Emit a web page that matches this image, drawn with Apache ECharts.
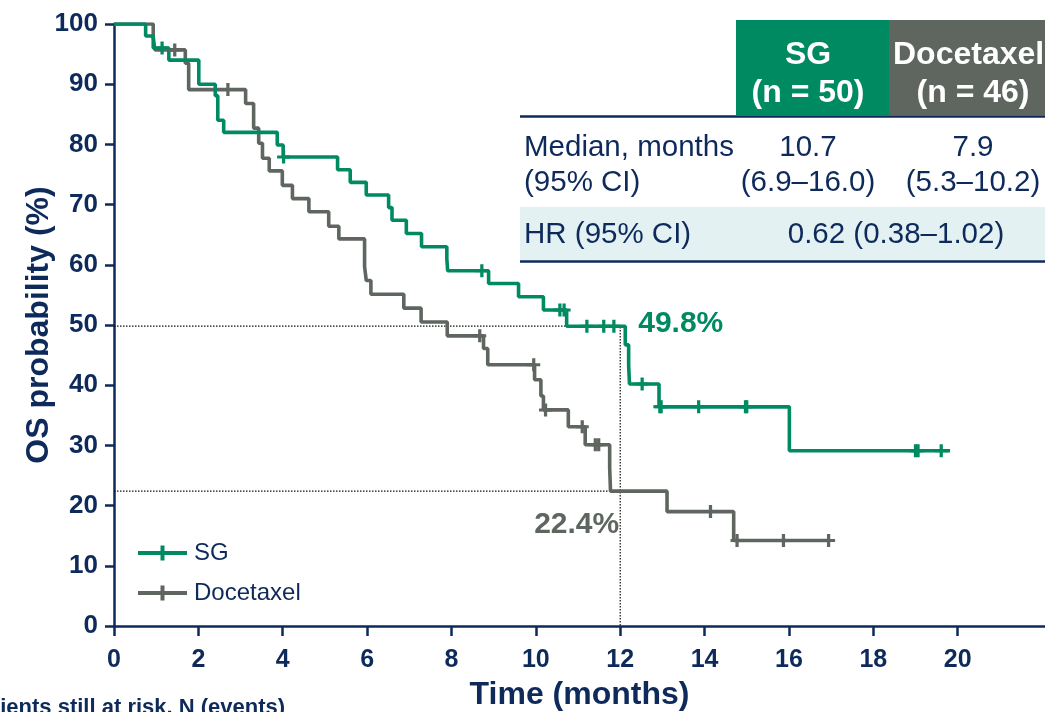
<!DOCTYPE html>
<html><head><meta charset="utf-8">
<script src="https://cdn.jsdelivr.net/npm/echarts@6/dist/echarts.min.js"></script>
<style>html,body{margin:0;padding:0;background:#fff;overflow:hidden}#c{width:1045px;height:712px}</style>
</head><body><div id="c"></div>
<script>
// ---- data ----
const xTicks = [0, 2, 4, 6, 8, 10, 12, 14, 16, 18, 20];
const yTicks = [0, 10, 20, 30, 40, 50, 60, 70, 80, 90, 100];
const seriesNames = ['SG', 'Docetaxel'];

const sgEventTimes = [0.75, 0.93, 1.30, 2.01, 2.40, 2.46, 2.60, 3.87, 4.01, 5.30, 5.60, 5.98, 6.51, 6.59, 6.93, 7.29, 7.89, 7.91, 8.88, 9.59, 10.18, 10.73, 12.12, 12.20, 12.22, 12.92, 16.01];
const sgEventSurv  = [98.0, 96.0, 94.0, 90.0, 88.1, 84.0, 82.0, 79.9, 77.9, 75.8, 73.7, 71.6, 69.5, 67.4, 65.2, 63.0, 61.0, 59.0, 56.9, 54.7, 52.5, 49.8, 46.7, 43.3, 40.2, 36.4, 29.1];
const sgCensorTimes = [1.14, 4.02, 8.72, 10.57, 10.67, 11.21, 11.61, 11.85, 12.52, 12.94, 12.97, 13.86, 14.97, 15.00, 19.00, 19.06, 19.61];
const sgLastTime = 19.82;

const dxEventTimes = [0.93, 0.97, 1.69, 1.77, 3.12, 3.31, 3.43, 3.52, 3.68, 3.99, 4.23, 4.62, 5.09, 5.33, 5.94, 5.98, 6.09, 6.87, 7.28, 7.90, 8.76, 8.86, 9.97, 10.12, 10.18, 10.77, 11.17, 11.75, 11.77, 13.11, 14.69];
const dxEventSurv  = [97.8, 95.7, 93.5, 89.1, 86.8, 82.7, 80.2, 77.7, 75.6, 73.2, 71.0, 68.8, 66.4, 64.3, 59.7, 57.4, 55.1, 52.8, 50.5, 48.2, 46.1, 43.4, 40.9, 38.2, 35.9, 33.1, 30.1, 26.3, 22.4, 19.0, 14.2];
const dxCensorTimes = [1.44, 2.70, 8.67, 9.95, 10.23, 11.10, 11.41, 11.49, 14.14, 14.77, 15.87, 16.94];
const dxLastTime = 16.97;

const refTime = 12;
const sgAtRef = 49.8;
const dxAtRef = 22.4;

const tableHeader = [['SG', '(n = 50)'], ['Docetaxel', '(n = 46)']];
const tableRowLabels = [['Median, months', '(95% CI)'], ['HR (95% CI)']];
const medianValues = [['10.7', '(6.9–16.0)'], ['7.9', '(5.3–10.2)']];
const hrValue = '0.62 (0.38–1.02)';
const riskTableTitle = 'Patients still at risk, N (events)';

// ---- helpers ----
function stepPath(times, surv, end) {
  const pts = [[0, 100]];
  let prev = 100;
  for (let i = 0; i < times.length; i++) {
    pts.push([times[i], prev]);
    pts.push([times[i], surv[i]]);
    prev = surv[i];
  }
  pts.push([end, prev]);
  return pts;
}
function survivalAt(times, surv, t) {
  let s = 100;
  for (let i = 0; i < times.length; i++) if (times[i] <= t) s = surv[i];
  return s;
}

const GREEN = '#008A62';
const GRAY = '#5E665F';
const NAVY = '#0D2A5A';
const FONT = '"Liberation Sans", Arial, sans-serif';
const PLUS = 'path://M0,5 H12 V8 H0 Z M4.5,0 H7.5 V13 H4.5 Z';

const chart = echarts.init(document.getElementById('c'), null, {renderer: 'canvas'});

const graphics = [];
graphics.push({type: 'rect', shape: {x: 736, y: 20, width: 153, height: 95}, style: {fill: GREEN}, silent: true});
graphics.push({type: 'rect', shape: {x: 889, y: 20, width: 160, height: 95}, style: {fill: GRAY}, silent: true});
graphics.push({type: 'rect', shape: {x: 520, y: 207, width: 525, height: 53}, style: {fill: '#E3F1F2'}, silent: true});
graphics.push({type: 'line', shape: {x1: 520, y1: 116.5, x2: 1045, y2: 116.5}, style: {stroke: NAVY, lineWidth: 2.5}, silent: true});
graphics.push({type: 'line', shape: {x1: 520, y1: 261.5, x2: 1045, y2: 261.5}, style: {stroke: NAVY, lineWidth: 2.5}, silent: true});
const hdrStyle = {fill: '#fff', font: 'bold 32px ' + FONT, textVerticalAlign: 'middle'};
graphics.push({type: 'text', style: Object.assign({text: tableHeader[0][0], x: 808, y: 55, textAlign: 'center'}, hdrStyle)});
graphics.push({type: 'text', style: Object.assign({text: tableHeader[0][1], x: 808, y: 93, textAlign: 'center'}, hdrStyle)});
graphics.push({type: 'text', style: Object.assign({text: tableHeader[1][0], x: 893, y: 55, textAlign: 'left'}, hdrStyle)});
graphics.push({type: 'text', style: Object.assign({text: tableHeader[1][1], x: 973, y: 93, textAlign: 'center'}, hdrStyle)});
const bodyStyle = {fill: NAVY, font: '29.5px ' + FONT, textVerticalAlign: 'middle'};
graphics.push({type: 'text', style: Object.assign({text: tableRowLabels[0][0], x: 524, y: 148, textAlign: 'left'}, bodyStyle)});
graphics.push({type: 'text', style: Object.assign({text: tableRowLabels[0][1], x: 524, y: 183, textAlign: 'left'}, bodyStyle)});
graphics.push({type: 'text', style: Object.assign({text: tableRowLabels[1][0], x: 524, y: 235, textAlign: 'left'}, bodyStyle)});
graphics.push({type: 'text', style: Object.assign({text: medianValues[0][0], x: 808, y: 148, textAlign: 'center'}, bodyStyle)});
graphics.push({type: 'text', style: Object.assign({text: medianValues[0][1], x: 808, y: 183, textAlign: 'center'}, bodyStyle)});
graphics.push({type: 'text', style: Object.assign({text: medianValues[1][0], x: 973, y: 148, textAlign: 'center'}, bodyStyle)});
graphics.push({type: 'text', style: Object.assign({text: medianValues[1][1], x: 973, y: 183, textAlign: 'center'}, bodyStyle)});
graphics.push({type: 'text', style: Object.assign({text: hrValue, x: 896, y: 235, textAlign: 'center'}, bodyStyle)});
graphics.push({type: 'text', style: {text: riskTableTitle, x: -34, y: 697, textAlign: 'left', textVerticalAlign: 'top', fill: NAVY, font: 'bold 22px ' + FONT}});

const option = {
  animation: false,
  backgroundColor: '#fff',
  textStyle: {fontFamily: FONT},
  grid: {left: 114, right: 0, top: 24, bottom: 86, containLabel: false, outerBoundsMode: 'none'},
  legend: {
    data: seriesNames, orient: 'vertical', left: 138, top: 541, padding: 0,
    itemWidth: 49, itemHeight: 15, itemGap: 16,
    icon: 'path://M0,5.5 H49 V9.5 H0 Z M22.5,0 H26.5 V15 H22.5 Z',
    textStyle: {fontSize: 24, color: NAVY, fontFamily: FONT, padding: [0, 0, 0, 2]}
  },
  xAxis: {
    type: 'value', min: 0, max: 22.07, interval: 2,
    axisLine: {show: true, lineStyle: {color: NAVY, width: 2.5}},
    axisTick: {show: true, length: 10, lineStyle: {color: NAVY, width: 2.5}, customValues: xTicks},
    axisLabel: {customValues: xTicks, color: NAVY, fontSize: 25, fontWeight: 'bold', margin: 22, fontFamily: FONT},
    splitLine: {show: false},
    name: 'Time (months)', nameLocation: 'middle', nameGap: 53, nameMoveOverlap: false,
    nameTextStyle: {color: NAVY, fontSize: 32, fontWeight: 'bold', fontFamily: FONT}
  },
  yAxis: {
    type: 'value', min: 0, max: 100, interval: 10,
    axisLine: {show: true, lineStyle: {color: NAVY, width: 2.5}},
    axisTick: {show: true, length: 9, lineStyle: {color: NAVY, width: 2.5}, customValues: yTicks},
    axisLabel: {customValues: yTicks, color: NAVY, fontSize: 26, fontWeight: 'bold', margin: 16, fontFamily: FONT},
    splitLine: {show: false},
    name: 'OS probability (%)', nameLocation: 'middle', nameRotate: 90, nameGap: 59, nameMoveOverlap: false,
    nameTextStyle: {color: NAVY, fontSize: 32, fontWeight: 'bold', fontFamily: FONT}
  },
  series: [
    {type: 'line', name: 'refSG', data: [[0, sgAtRef], [refTime, sgAtRef], [refTime, 0]], showSymbol: false, silent: true, z: 1,
     lineStyle: {color: '#111', width: 1.2, type: [1.5, 1.5]}},
    {type: 'line', name: 'refDX', data: [[0, dxAtRef], [refTime, dxAtRef]], showSymbol: false, silent: true, z: 1,
     lineStyle: {color: '#111', width: 1.2, type: [1.5, 1.5]}},
    {type: 'line', name: seriesNames[1], data: stepPath(dxEventTimes, dxEventSurv, dxLastTime), showSymbol: false, color: GRAY, z: 2,
     lineStyle: {color: GRAY, width: 3.6}},
    {type: 'line', name: seriesNames[0], data: stepPath(sgEventTimes, sgEventSurv, sgLastTime), showSymbol: false, color: GREEN, z: 3,
     lineStyle: {color: GREEN, width: 3.6}},
    {type: 'scatter', name: seriesNames[1], data: dxCensorTimes.map(t => [t, survivalAt(dxEventTimes, dxEventSurv, t)]),
     symbol: PLUS, symbolSize: [13, 13], itemStyle: {color: GRAY, opacity: 1}, z: 4},
    {type: 'scatter', name: seriesNames[0], data: sgCensorTimes.map(t => [t, survivalAt(sgEventTimes, sgEventSurv, t)]),
     symbol: PLUS, symbolSize: [13, 13], itemStyle: {color: GREEN, opacity: 1}, z: 5},
    {type: 'scatter', name: 'lblSG', data: [[refTime, sgAtRef]], symbolSize: 0, silent: true, z: 6, itemStyle: {opacity: 1},
     label: {show: true, position: 'right', distance: 18, offset: [0, -2], formatter: p => p.value[1].toFixed(1) + '%',
             color: GREEN, fontSize: 30, fontWeight: 'bold', fontFamily: FONT}},
    {type: 'scatter', name: 'lblDX', data: [[refTime, dxAtRef]], symbolSize: 0, silent: true, z: 6, itemStyle: {opacity: 1},
     label: {show: true, position: 'left', distance: 1, offset: [0, 34], formatter: p => p.value[1].toFixed(1) + '%',
             color: GRAY, fontSize: 30, fontWeight: 'bold', fontFamily: FONT}}
  ],
  graphic: graphics
};
chart.setOption(option);
</script></body></html>
